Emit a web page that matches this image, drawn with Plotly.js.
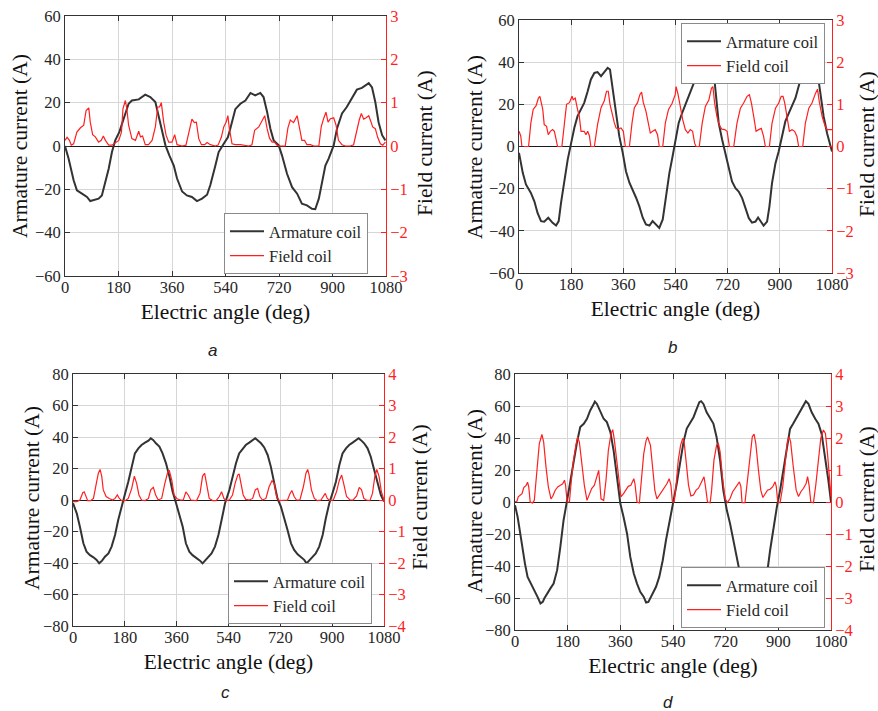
<!DOCTYPE html>
<html>
<head>
<meta charset="utf-8">
<script src="https://cdn.plot.ly/plotly-3.0.1.min.js"></script>
<style>
  html, body { margin: 0; padding: 0; background: #fff; }
  #chart { width: 878px; height: 711px; }
</style>
</head>
<body>
<div id="chart"></div>
<script>
// Armature and field coil currents over three electrical periods, four operating cases.
// Each series is a list of [electric angle (deg), current (A)] samples.

const angleTicks = [0, 180, 360, 540, 720, 900, 1080];
const panelLabels = ['a', 'b', 'c', 'd'];

// ---- case a ----
const armatureA = [[0,0],[12,-5.8],[29,-15.8],[40,-20.5],[57,-22],[74,-23.5],[85,-25.4],[102,-24.6],[113,-24.3],[124,-22.8],[136,-16.6],[147,-10.5],[158,-2.8],[169,2.6],[183,6.5],[197,12.5],[214,19.5],[225,21],[248,21.5],[270,23.7],[287,22.6],[304,20.3],[315,14],[326,6.5],[338,0.3],[351,-4.3],[366,-9],[377,-15],[394,-21],[410,-22.8],[427,-23.5],[444,-25.4],[461,-24.3],[478,-22.5],[489,-18],[506,-9],[517,-2.8],[534,1],[548,4],[556,8],[573,17],[590,19.5],[607,21],[624,24.5],[640,23.4],[657,24.5],[668,22.6],[680,15.7],[691,8],[702,2.6],[719,0.3],[730,-4.3],[747,-12.8],[764,-19],[781,-22],[797,-26.6],[814,-27.4],[831,-29],[842,-29.2],[854,-24.3],[865,-16.6],[876,-9],[887,-5.8],[904,0.3],[915,8],[932,15],[948,18],[965,21.8],[982,26],[999,26.8],[1022,29],[1033,27],[1044,20.3],[1055,11],[1067,5],[1078,2.6]];
const fieldA = [[0,0.13],[7,0.2],[15,0.13],[21,0.02],[29,0.05],[40,0.32],[52,0.42],[63,0.48],[71,0.82],[80,0.88],[85,0.55],[93,0.26],[102,0.21],[113,0.09],[122,0.13],[129,0.23],[136,0.13],[147,0.02],[158,0.02],[169,0.08],[181,0.13],[190,0.32],[195,0.86],[203,1.05],[208,0.86],[214,0.48],[225,0.17],[237,0.13],[248,0.34],[254,0.21],[261,0.23],[270,0.03],[281,0.03],[293,0.13],[304,0.44],[312,0.9],[318,0.9],[324,1.0],[332,0.55],[340,0.25],[349,0.09],[360,0.09],[369,0.26],[377,0.03],[394,0],[407,0.02],[418,0.36],[427,0.62],[435,0.54],[442,0.55],[450,0.17],[459,0.03],[470,0.03],[478,0.08],[489,0.03],[506,0],[515,0.02],[526,0.2],[534,0.44],[542,0.55],[548,0.7],[553,0.4],[562,0.05],[573,0.03],[590,0.03],[601,0.02],[618,0],[629,0.03],[638,0.36],[652,0.44],[663,0.6],[672,0.7],[680,0.4],[688,0.18],[697,0.09],[705,0.09],[713,0.02],[724,0],[741,0],[750,0.42],[758,0.6],[769,0.54],[781,0.7],[788,0.48],[797,0.13],[806,0.13],[814,0.03],[826,0.03],[837,0],[854,0],[862,0.44],[870,0.63],[878,0.78],[885,0.55],[893,0.63],[904,0.65],[912,0.48],[920,0.13],[932,0.03],[943,0],[960,0],[971,0.03],[982,0.4],[990,0.6],[997,0.75],[1005,0.62],[1013,0.65],[1022,0.7],[1030,0.55],[1035,0.44],[1044,0.4],[1052,0.2],[1061,0.05],[1069,0.02],[1078,0.09]];

// ---- case b ----
const armatureB = [[0,-3],[13,-12.5],[24,-18],[41,-22],[53,-26],[64,-31.5],[76,-35.4],[87,-35.7],[101,-33.8],[116,-36.2],[128,-37.5],[137,-35.4],[145,-26.7],[156,-15.7],[168,-6.2],[179,1],[191,8.9],[202,14.4],[214,17.5],[225,20.7],[237,26.2],[248,31.8],[260,34.9],[271,35.3],[283,33.4],[294,35.3],[306,37.3],[314,36.5],[323,27],[335,14.4],[346,4.9],[358,-3],[369,-11.7],[381,-17.2],[392,-20.4],[404,-24.3],[415,-28.3],[427,-33.8],[438,-37],[450,-37.5],[461,-35.4],[473,-37],[484,-38.6],[496,-34.6],[507,-23.6],[519,-12.5],[530,-4.6],[540,2.5],[551,11.2],[563,16],[574,19.9],[586,23.9],[597,28.6],[609,32.6],[620,36],[632,35.7],[643,34],[655,36.5],[664,37.3],[672,35],[680,23.9],[689,11.2],[701,3.2],[712,-3.2],[724,-9.5],[735,-16.6],[747,-19.8],[758,-21.4],[770,-24.5],[781,-29.3],[793,-34],[804,-36.1],[816,-35.6],[825,-33.7],[836,-35.6],[844,-37.5],[856,-35.6],[864,-28.5],[873,-17.4],[885,-7.9],[896,-2.4],[908,4.7],[919,11.9],[931,15.8],[942,19],[954,23],[965,28.6],[977,34.5],[988,35],[1000,33.4],[1011,35.3],[1023,36.5],[1031,34],[1040,23.9],[1051,14.4],[1063,6.3],[1074,0],[1080,-2.4]];
const fieldB = [[0,0.36],[6,0.25],[10,0],[33,0],[41,0.56],[49,0.88],[59,0.97],[67,1.15],[72,1.19],[76,1.08],[82,0.88],[87,0.52],[95,0.48],[101,0.28],[108,0.36],[116,0.4],[122,0.36],[128,0.17],[133,0],[148,0],[156,0.56],[164,1.0],[174,1.04],[183,1.19],[187,1.11],[194,1.15],[202,0.88],[208,0.72],[214,0.36],[225,0.36],[231,0.28],[237,0.36],[243,0.25],[248,0],[260,0],[271,0.52],[283,0.92],[294,1.08],[302,1.31],[308,1.31],[314,1.0],[323,0.72],[329,0.56],[335,0.44],[344,0.42],[352,0.44],[360,0.36],[367,0],[381,0],[390,0.56],[398,0.92],[409,1.04],[417,1.23],[423,1.29],[429,1.04],[438,0.84],[447,0.56],[453,0.32],[461,0.36],[470,0.4],[478,0.28],[484,0],[496,0],[505,0.56],[516,0.88],[528,1.02],[539,1.23],[542,1.42],[549,1.23],[557,0.91],[565,0.63],[574,0.4],[583,0.32],[591,0.4],[599,0.36],[606,0.08],[611,0],[622,0],[632,0.55],[643,0.95],[655,1.1],[664,1.38],[669,1.42],[675,1.03],[683,0.71],[691,0.51],[700,0.41],[710,0.4],[718,0.36],[726,0],[741,0],[752,0.55],[764,0.91],[775,1.03],[787,1.19],[795,1.23],[802,1.03],[810,0.71],[818,0.36],[827,0.4],[836,0.43],[844,0.24],[850,0],[864,0],[873,0.55],[885,0.91],[896,1.03],[905,1.19],[911,1.19],[917,1.03],[925,0.71],[933,0.36],[942,0.4],[951,0.36],[959,0.24],[965,0],[979,0],[988,0.55],[1000,0.91],[1011,1.03],[1023,1.26],[1030,1.36],[1036,1.07],[1046,0.71],[1055,0.51],[1063,0.4],[1071,0.4],[1080,0.4]];

// ---- case c ----
const armatureC = [[0,-2],[13,-8.5],[24,-17],[36,-27.5],[47,-32.8],[59,-35],[71,-36.4],[82,-38],[91,-40.2],[101,-38.5],[111,-36],[123,-33.9],[134,-29.6],[146,-22.2],[157,-12.7],[169,-3.2],[181,4.2],[192,11.6],[204,21.2],[215,29.6],[227,32.8],[238,34.9],[250,36.4],[262,37.7],[270,39.2],[279,38],[288,36],[300,33.9],[311,29.6],[323,23.3],[335,14.8],[346,5.3],[358,-2.1],[369,-8.5],[381,-17],[392,-27.5],[404,-32.8],[415,-35],[427,-36.4],[441,-38.5],[450,-40.2],[458,-38.5],[470,-36.4],[481,-33.9],[493,-29.6],[505,-22.2],[516,-12.7],[528,-2.1],[543,6.3],[554,14.8],[566,23.3],[577,29.6],[589,32.8],[600,34.9],[612,36.4],[624,37.7],[633,39.2],[641,38],[653,36],[664,33.4],[676,28.6],[687,21.2],[699,10.6],[710,1],[722,-4.2],[733,-10.6],[745,-19],[757,-27.5],[768,-31.7],[780,-34.5],[791,-36.4],[803,-38],[811,-40.2],[820,-38.5],[832,-36.4],[843,-33.9],[855,-29.6],[867,-22.2],[878,-11.6],[890,-2.1],[901,4.2],[913,11.6],[925,22.2],[936,29.6],[948,32.8],[959,34.9],[971,36.4],[982,37.7],[992,39.2],[1000,38],[1011,36],[1023,32.8],[1034,27.5],[1046,19],[1058,10.6],[1069,3.2],[1080,-1]];
const fieldC = [[0,-0.05],[13,-0.05],[24,0],[34,0.23],[39,0.26],[45,0.13],[51,-0.02],[61,-0.02],[71,0.05],[80,0.48],[88,0.85],[94,0.97],[100,0.74],[105,0.32],[115,0.11],[126,0.05],[138,0],[146,0.05],[154,0.16],[161,0.05],[169,-0.02],[181,-0.02],[192,0.05],[204,0.37],[213,0.76],[221,0.53],[229,0.16],[238,0],[250,-0.02],[262,0.05],[270,0.32],[279,0.4],[287,0.16],[296,0],[308,0.05],[319,0.53],[328,0.85],[334,0.95],[343,0.63],[351,0.16],[360,0.05],[372,0],[383,0],[392,0.26],[400,0.16],[409,0],[418,-0.02],[429,-0.02],[441,0.21],[450,0.76],[457,0.85],[464,0.48],[473,0.05],[485,-0.02],[497,-0.02],[508,0.11],[516,0.26],[524,0.05],[531,-0.02],[543,0],[554,0.16],[563,0.53],[572,0.79],[577,0.83],[583,0.53],[591,0.16],[600,0.02],[612,0],[624,0.05],[633,0.32],[641,0.37],[649,0.11],[658,0],[670,0.05],[681,0.42],[691,0.61],[699,0.53],[707,0.11],[716,-0.02],[734,-0.02],[745,0],[753,0.19],[760,0.3],[768,0.11],[776,0],[788,0],[800,0.42],[809,0.85],[815,0.97],[820,0.79],[828,0.32],[838,0.05],[849,-0.02],[861,0],[869,0.13],[876,0.21],[883,0.05],[892,-0.02],[904,0],[915,0.26],[925,0.63],[933,0.79],[941,0.48],[950,0.11],[962,0],[973,0],[985,0.13],[994,0.4],[1002,0.32],[1010,0.05],[1019,0],[1031,-0.02],[1040,0.21],[1048,0.74],[1055,0.97],[1063,0.74],[1071,0.26],[1080,0]];

// ---- case d ----
const armatureD = [[0,-2],[9,-9.4],[18,-19.8],[26,-30],[34,-38.5],[43,-46.8],[55,-51],[66,-55],[77,-59.3],[87,-63.4],[95,-62.4],[100,-60.3],[109,-57.2],[121,-54],[132,-51],[144,-42.6],[155,-28],[166,-11.4],[178,1],[189,12.5],[200,26],[212,37.4],[223,46.8],[235,48.9],[246,52],[257,57.2],[269,61.3],[273,62.8],[280,61.3],[292,56.1],[303,52],[314,49.9],[326,43.7],[337,32.2],[349,15.6],[360,-1],[371,-9.4],[383,-19.8],[394,-34.3],[406,-44.7],[417,-51],[428,-56.1],[440,-59.3],[448,-62.8],[456,-62.4],[465,-59.3],[474,-56.1],[482,-53],[493,-46.8],[505,-36.4],[516,-23.9],[527,-13.5],[541,-1],[553,11.6],[564,24.1],[576,37.6],[587,45.9],[598,49],[610,53],[621,58.2],[630,62.4],[636,63],[644,61.3],[655,56.1],[667,52],[678,49],[689,40.5],[701,26],[712,7.3],[724,-5.2],[735,-13.5],[746,-23.9],[758,-34.3],[769,-44.7],[780,-51],[791,-56],[800,-59],[810,-63],[818,-62],[826,-59],[835,-56],[845,-52],[860,-46.8],[872,-30],[883,-15.6],[895,-3.1],[906,7.3],[917,19.8],[929,34.3],[940,45.7],[951,49],[963,53],[974,57.2],[986,61.3],[994,63],[1003,61.3],[1014,56.1],[1026,52],[1037,49],[1048,42.6],[1060,28],[1071,13.5],[1080,0]];
const fieldD = [[0,0],[7,0.03],[11,0.16],[18,0.21],[24,0.26],[30,0.45],[38,0.52],[43,0.62],[47,0.47],[52,0],[60,-0.03],[66,0.05],[74,0.99],[83,1.82],[92,2.11],[98,1.87],[106,1.09],[114,0.47],[123,0.1],[129,0.18],[137,0.36],[146,0.47],[155,0.52],[163,0.57],[169,0.68],[173,0.52],[178,0],[186,0],[191,0.52],[199,1.25],[208,1.77],[214,2.03],[220,1.87],[228,1.2],[237,0.52],[246,0.05],[254,0.26],[262,0.42],[271,0.52],[280,0.78],[286,0.99],[289,0.68],[294,0.1],[303,0.05],[311,0.68],[319,1.61],[328,2.13],[334,2.26],[339,1.98],[349,1.2],[357,0.52],[362,0.16],[371,0.26],[379,0.36],[387,0.49],[396,0.52],[406,0.73],[410,0.57],[417,0],[425,-0.03],[433,0.68],[440,1.51],[448,1.92],[453,2.03],[463,1.77],[470,0.99],[478,0.36],[485,0.1],[493,0.21],[501,0.36],[510,0.47],[519,0.57],[527,0.73],[533,0.52],[538,0],[544,0],[551,0.58],[558,1.31],[566,1.78],[573,1.99],[578,1.88],[585,1.21],[593,0.53],[601,0.19],[610,0.22],[619,0.37],[627,0.43],[635,0.58],[642,0.69],[646,0.79],[651,0.48],[658,0],[667,-0.02],[672,0.37],[680,1.31],[689,1.78],[695,1.83],[701,1.57],[709,0.79],[718,0.11],[726,-0.02],[735,0.11],[744,0.32],[752,0.43],[760,0.53],[767,0.63],[772,0.48],[776,-0.02],[786,-0.02],[794,0.69],[803,1.52],[811,2.04],[817,2.12],[823,1.83],[832,1.0],[840,0.37],[847,0.14],[855,0.27],[863,0.37],[872,0.4],[881,0.48],[889,0.63],[893,0.48],[898,0],[906,-0.02],[915,0.48],[923,1.31],[931,1.88],[937,2.04],[942,1.88],[951,1.1],[961,0.37],[969,0.17],[977,0.32],[986,0.43],[995,0.58],[1000,0.79],[1005,0.53],[1011,0],[1020,-0.02],[1028,0.53],[1037,1.41],[1045,1.99],[1054,2.25],[1061,2.14],[1068,1.52],[1074,0.79],[1080,0.17]];

// Axis ranges per case: armature (left) and field (right)
const armatureRanges = [[-60, 60], [-60, 60], [-80, 80], [-80, 80]];
const fieldRanges = [[-3, 3], [-3, 3], [-4, 4], [-4, 4]];
const armatureSeries = [armatureA, armatureB, armatureC, armatureD];
const fieldSeries = [fieldA, fieldB, fieldC, fieldD];

// ---- layout geometry ----
const W = 878, H = 711;
const SERIF = 'Liberation Serif, Times New Roman, Times, serif';
const SANS = 'Liberation Sans, Arial, sans-serif';
const INK = '#262626';
const RED = '#ff1f1f';
const TITLE_FONT = { family: SERIF, size: 21.5, color: '#111' };
// plot boxes in pixels: [left, top, right, bottom]
const boxes = [[65, 16, 386, 276], [519, 20, 832, 273], [73, 374, 384, 626], [515, 374, 831, 630]];
// vertical axis title centres in pixels: [leftX, leftY, rightX, rightY]
const yTitlePos = [[20, 146, 425, 143], [475, 147, 867, 144], [32, 498, 420, 497], [475, 501, 867, 499]];
// legend anchor in pixels: [left x, y, vertical anchor]
const legendPos = [[224, 274, 'bottom'], [681, 23, 'top'], [228, 624, 'bottom'], [681, 628, 'bottom']];
// panel captions, centre in pixels
const captionPos = [[212, 350], [672, 347], [225, 692], [668, 702]];

const data = [];
const layout = {
  width: W, height: H,
  margin: { l: 0, r: 0, t: 0, b: 0 },
  paper_bgcolor: '#fff', plot_bgcolor: '#fff',
  showlegend: true,
  font: { family: SERIF, color: INK },
  annotations: []
};

const legendNames = ['legend', 'legend2', 'legend3', 'legend4'];
const px = (x) => x / W;
const py = (y) => 1 - y / H;

for (let i = 0; i < 4; i++) {
  const [l, t, r, b] = boxes[i];
  const xs = i === 0 ? '' : String(i + 1);
  const yl = (2 * i + 1) === 1 ? '' : String(2 * i + 1);
  const yr = String(2 * i + 2);

  layout['xaxis' + xs] = {
    domain: [px(l), px(r)], anchor: 'y' + yl, range: [0, 1080],
    tickvals: angleTicks, ticktext: angleTicks.map(String),
    ticks: 'inside', ticklen: 5, tickcolor: '#333', ticklabelstandoff: -4,
    showline: true, linecolor: '#333', linewidth: 1, mirror: 'ticks',
    showgrid: true, gridcolor: '#d6d6d6', gridwidth: 1, zeroline: false,
    tickfont: { family: SERIF, size: 16.5, color: INK },
    title: { text: 'Electric angle (deg)', font: TITLE_FONT, standoff: 8 },
    automargin: false
  };
  layout['yaxis' + yl] = {
    domain: [py(b), py(t)], anchor: 'x' + xs, range: armatureRanges[i], dtick: 20, tick0: 0,
    ticks: 'inside', ticklen: 5, tickcolor: '#333',
    showline: true, linecolor: '#333', linewidth: 1, mirror: false,
    showgrid: true, gridcolor: '#d6d6d6', gridwidth: 1,
    zeroline: true, zerolinecolor: '#1a1a1a', zerolinewidth: 1,
    tickfont: { family: SERIF, size: 16.5, color: INK },
    automargin: false
  };
  layout['yaxis' + yr] = {
    overlaying: 'y' + yl, side: 'right', anchor: 'x' + xs, range: fieldRanges[i], dtick: 1, tick0: 0,
    ticks: 'inside', ticklen: 5, tickcolor: RED,
    showline: true, linecolor: RED, linewidth: 1,
    showgrid: false, zeroline: false,
    tickfont: { family: SERIF, size: 16.5, color: RED },
    automargin: false
  };

  const arm = armatureSeries[i];
  const fld = fieldSeries[i];
  data.push({
    type: 'scatter', mode: 'lines', name: 'Armature coil',
    x: arm.map(p => p[0]), y: arm.map(p => p[1]),
    xaxis: 'x' + xs, yaxis: 'y' + yl,
    line: { color: '#333333', width: 2 },
    legend: legendNames[i]
  });
  data.push({
    type: 'scatter', mode: 'lines', name: 'Field coil',
    x: fld.map(p => p[0]), y: fld.map(p => p[1]),
    xaxis: 'x' + xs, yaxis: 'y' + yr,
    line: { color: RED, width: 1.2 },
    legend: legendNames[i]
  });

  const [lx, ly, lanchor] = legendPos[i];
  layout[legendNames[i]] = {
    x: px(lx), y: py(ly), xanchor: 'left', yanchor: lanchor,
    xref: 'paper', yref: 'paper',
    bgcolor: '#ffffff', bordercolor: '#8a8a8a', borderwidth: 1,
    font: { family: SERIF, size: 16.5, color: INK },
    tracegroupgap: 0, itemwidth: 34, traceorder: 'normal'
  };

  // vertical axis titles
  const [lxT, lyT, rxT, ryT] = yTitlePos[i];
  layout.annotations.push({
    xref: 'paper', yref: 'paper', x: px(lxT), y: py(lyT),
    xanchor: 'center', yanchor: 'middle', showarrow: false, textangle: -90,
    text: 'Armature current (A)', font: TITLE_FONT
  });
  layout.annotations.push({
    xref: 'paper', yref: 'paper', x: px(rxT), y: py(ryT),
    xanchor: 'center', yanchor: 'middle', showarrow: false, textangle: -90,
    text: 'Field current (A)', font: TITLE_FONT
  });

  const [cx, cy] = captionPos[i];
  layout.annotations.push({
    xref: 'paper', yref: 'paper', x: px(cx), y: py(cy),
    xanchor: 'center', yanchor: 'middle', showarrow: false,
    text: panelLabels[i],
    font: { family: SANS, size: 17, color: '#222', style: 'italic' }
  });
}

Plotly.newPlot('chart', data, layout, { staticPlot: true, displayModeBar: false });
</script>
</body>
</html>
